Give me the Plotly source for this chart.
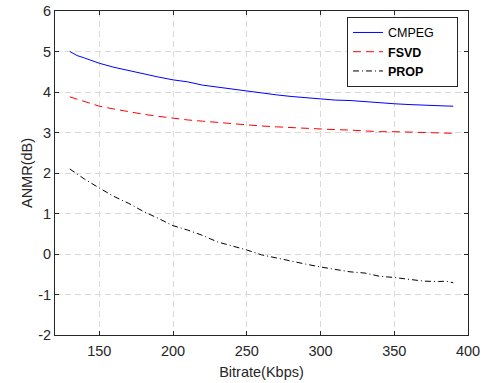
import plotly.graph_objects as go

bitrate = [130, 135, 140, 150, 160, 170, 180, 190, 200, 210, 220, 230, 240, 250, 260,
           270, 280, 290, 300, 310, 320, 330, 340, 350, 360, 370, 380, 385, 390]
cmpeg = [5.00, 4.90, 4.84, 4.71, 4.61, 4.53, 4.44, 4.37, 4.30, 4.25, 4.17, 4.12, 4.07,
         4.02, 3.97, 3.93, 3.89, 3.86, 3.83, 3.80, 3.79, 3.76, 3.73, 3.71, 3.69, 3.67,
         3.66, 3.655, 3.65]
fsvd = [3.88, 3.82, 3.76, 3.65, 3.58, 3.51, 3.45, 3.40, 3.35, 3.31, 3.28, 3.25, 3.21,
        3.18, 3.16, 3.14, 3.12, 3.10, 3.08, 3.07, 3.06, 3.04, 3.02, 3.02, 3.01, 3.00,
        2.99, 2.985, 2.98]
prop = [2.10, 1.97, 1.85, 1.63, 1.42, 1.25, 1.05, 0.88, 0.70, 0.59, 0.46, 0.30, 0.20,
        0.10, -0.02, -0.10, -0.18, -0.25, -0.32, -0.38, -0.44, -0.47, -0.55, -0.58,
        -0.63, -0.67, -0.68, -0.67, -0.71]

x_ticks = [150, 200, 250, 300, 350, 400]
y_ticks = [-2, -1, 0, 1, 2, 3, 4, 5, 6]
y_tick_text = ["-2", "-1", "0", "1", "2", "3", "4", "5", "6"]

fig = go.Figure()
fig.add_trace(go.Scatter(x=bitrate, y=cmpeg, mode="lines",
                         name="CMPEG" + "&nbsp;" * 5,
                         line=dict(color="#0000ff", width=1)))
fig.add_trace(go.Scatter(x=bitrate, y=fsvd, mode="lines", name="<b>FSVD</b>",
                         line=dict(color="#ff0000", width=1, dash="8px,5px")))
fig.add_trace(go.Scatter(x=bitrate, y=prop, mode="lines", name="<b>PROP</b>",
                         line=dict(color="#000000", width=1, dash="6px,3px,1px,3px")))

axis_common = dict(showline=True, linecolor="#262626", linewidth=1, mirror="ticks",
                   ticks="inside", ticklen=4, tickcolor="#262626",
                   showgrid=True, gridcolor="#d9d9d9", griddash="6px,4px", gridwidth=1,
                   zeroline=False, automargin=False,
                   tickfont=dict(size=14.5, color="#262626"))

fig.update_xaxes(range=[120, 400], tickvals=x_ticks,
                 ticklabelstandoff=3,
                 title=dict(text="Bitrate(Kbps)", font=dict(size=14.5, color="#262626"), standoff=8),
                 **axis_common)
fig.update_yaxes(range=[-2, 6], tickvals=y_ticks, ticktext=y_tick_text,
                 title=dict(text="ANMR(dB)", font=dict(size=14.5, color="#262626"), standoff=2),
                 **axis_common)

fig.update_layout(
    width=484, height=383,
    margin=dict(l=55, r=16, t=11, b=48, autoexpand=False),
    paper_bgcolor="white", plot_bgcolor="white",
    font=dict(family="Liberation Sans, Arial, sans-serif", color="#262626"),
    legend=dict(x=0.707, y=0.982, xanchor="left", yanchor="top",
                bordercolor="#262626", borderwidth=1, bgcolor="white",
                font=dict(size=12.5, color="#000000"), tracegroupgap=0,
                itemwidth=30),
    showlegend=True,
)

fig.write_html("out.html", config={"displayModeBar": False},
               post_script="document.body.style.margin='0';document.body.style.overflow='hidden';")
